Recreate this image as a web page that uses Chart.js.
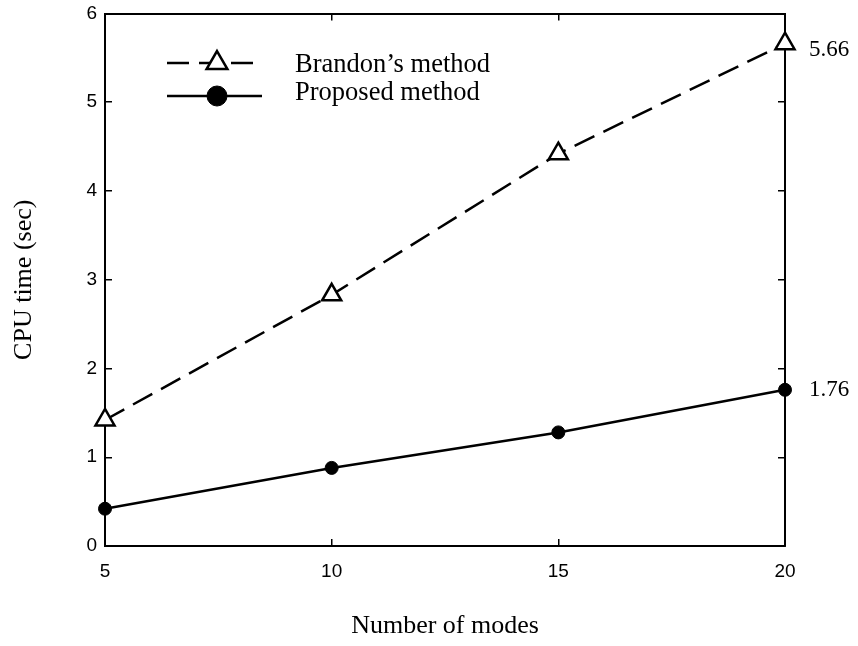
<!DOCTYPE html>
<html>
<head>
<meta charset="utf-8">
<script src="https://cdn.jsdelivr.net/npm/chart.js@4.4.1/dist/chart.umd.min.js"></script>
<style>
  body { margin: 0; background: #fff; }
  #wrap { width: 858px; height: 646px; }
</style>
</head>
<body>
<div id="wrap"><canvas id="cpuChart" width="858" height="646"></canvas></div>
<script>
// values
const modes = [5, 10, 15, 20];
const brandonTimes = [1.42, 2.83, 4.42, 5.66];
const proposedTimes = [0.42, 0.88, 1.28, 1.76];
const yTicks = [0, 1, 2, 3, 4, 5, 6];
const seriesNames = ["Brandon\u2019s method", "Proposed method"];

const ctx = document.getElementById('cpuChart').getContext('2d');
const serif = "'Liberation Serif', 'Times New Roman', serif";
const sans = "'Liberation Sans', Arial, sans-serif";

const toPoints = vals => modes.map((m, i) => ({ x: m, y: vals[i] }));

// legend drawn inside the plot, like the original
const insetLegend = {
    id: 'insetLegend',
    afterDatasetsDraw(chart) {
        const c = chart.ctx;
        chart.data.datasets.forEach((ds, i) => {
            const y = 63 + i * 33;
            c.save();
            c.strokeStyle = ds.borderColor;
            c.lineWidth = ds.borderWidth;
            c.setLineDash(ds.borderDash || []);
            c.beginPath();
            c.moveTo(167, y);
            c.lineTo(262, y);
            c.stroke();
            c.setLineDash([]);
            c.strokeStyle = ds.pointBorderColor;
            c.fillStyle = ds.pointBackgroundColor;
            c.lineWidth = ds.pointBorderWidth;
            Chart.helpers.drawPoint(c, {
                pointStyle: ds.pointStyle,
                radius: ds.pointStyle === 'triangle' ? 12 : 10,
                borderWidth: ds.pointBorderWidth,
                rotation: 0
            }, 217, y);
            c.fillStyle = '#000';
            c.font = '26.5px ' + serif;
            c.textAlign = 'left';
            c.textBaseline = 'alphabetic';
            c.fillText(ds.label, 295, 71.5 + i * 28.5);
            c.restore();
        });
    }
};

// final values written next to the last points
const endValues = {
    id: 'endValues',
    afterDatasetsDraw(chart) {
        const c = chart.ctx;
        const dy = [12, 6];
        chart.data.datasets.forEach((ds, i) => {
            const meta = chart.getDatasetMeta(i);
            const pt = meta.data[meta.data.length - 1];
            const v = ds.data[ds.data.length - 1].y;
            c.save();
            c.fillStyle = '#000';
            c.font = '23px ' + serif;
            c.textAlign = 'left';
            c.textBaseline = 'alphabetic';
            c.fillText(v.toFixed(2), pt.x + 24, pt.y + dy[i]);
            c.restore();
        });
    }
};

const gridOpts = {
    display: true,
    drawOnChartArea: false,
    drawTicks: true,
    tickLength: -7,
    color: '#000',
    lineWidth: 1.5
};
const borderOpts = { display: true, color: '#000', width: 2 };

function noPad(scale) {
    scale.paddingTop = 0;
    scale.paddingBottom = 0;
    scale.paddingLeft = 0;
    scale.paddingRight = 0;
}

new Chart(ctx, {
    type: 'line',
    data: {
        datasets: [{
            label: seriesNames[0],
            data: toPoints(brandonTimes),
            borderColor: '#000',
            borderWidth: 2.5,
            borderDash: [22, 10],
            pointStyle: 'triangle',
            pointRadius: 11,
            pointBorderWidth: 2.5,
            pointBorderColor: '#000',
            pointBackgroundColor: '#fff',
            tension: 0,
            clip: false
        }, {
            label: seriesNames[1],
            data: toPoints(proposedTimes),
            borderColor: '#000',
            borderWidth: 2.5,
            pointStyle: 'circle',
            pointRadius: 6.5,
            pointBorderWidth: 1,
            pointBorderColor: '#000',
            pointBackgroundColor: '#000',
            tension: 0,
            clip: false
        }]
    },
    options: {
        responsive: false,
        animation: false,
        layout: { padding: { left: 0, right: 73, top: 12, bottom: 0 } },
        plugins: {
            legend: { display: false },
            tooltip: { enabled: false }
        },
        scales: {
            x: {
                type: 'linear',
                position: 'bottom',
                min: modes[0],
                max: modes[modes.length - 1],
                grid: gridOpts,
                border: borderOpts,
                ticks: {
                    stepSize: 5,
                    color: '#000',
                    padding: 21,
                    font: { family: sans, size: 19 }
                },
                title: {
                    display: true,
                    text: 'Number of modes',
                    color: '#000',
                    font: { family: serif, size: 26 },
                    padding: { top: 0, bottom: 4 }
                },
                afterFit(scale) { scale.height = 100; noPad(scale); }
            },
            x2: {
                type: 'linear',
                position: 'top',
                min: modes[0],
                max: modes[modes.length - 1],
                grid: gridOpts,
                border: borderOpts,
                ticks: { stepSize: 5, display: false },
                afterFit(scale) { scale.height = 0; noPad(scale); }
            },
            y: {
                position: 'left',
                min: yTicks[0],
                max: yTicks[yTicks.length - 1],
                grid: gridOpts,
                border: borderOpts,
                ticks: {
                    stepSize: 1,
                    color: '#000',
                    padding: 15,
                    font: { family: sans, size: 19 },
                    callback: v => yTicks.includes(v) ? String(v) : ''
                },
                title: {
                    display: true,
                    text: 'CPU time (sec)',
                    color: '#000',
                    font: { family: serif, size: 26 },
                    padding: { top: 9, bottom: 0 }
                },
                afterFit(scale) { scale.width = 105; noPad(scale); }
            },
            y2: {
                position: 'right',
                min: yTicks[0],
                max: yTicks[yTicks.length - 1],
                grid: gridOpts,
                border: borderOpts,
                ticks: { stepSize: 1, display: false },
                afterFit(scale) { scale.width = 0; noPad(scale); }
            }
        }
    },
    plugins: [insetLegend, endValues]
});
</script>
</body>
</html>
